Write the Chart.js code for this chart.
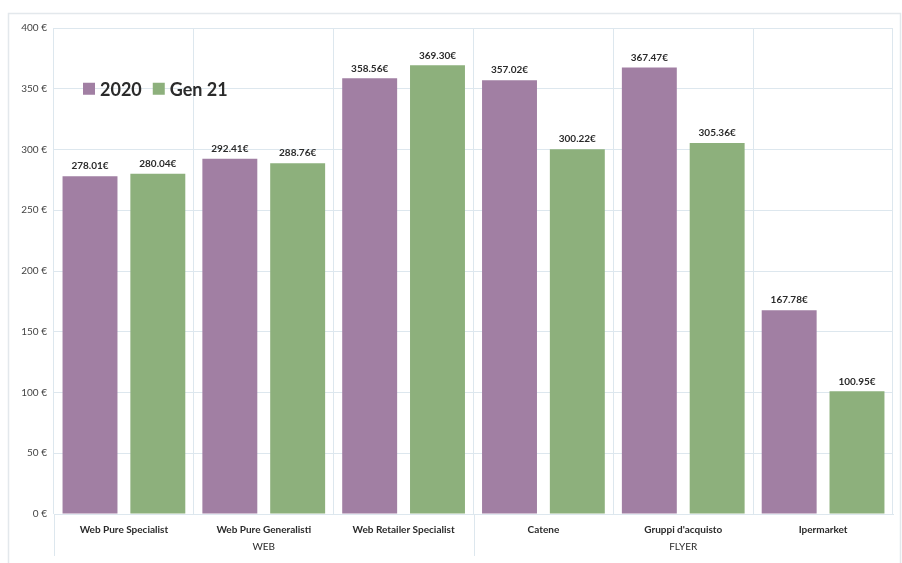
<!DOCTYPE html>
<html>
<head>
<meta charset="utf-8">
<script src="https://cdn.jsdelivr.net/npm/chart.js@4.4.1/dist/chart.umd.min.js"></script>
<style>
  html, body { margin: 0; padding: 0; background: #ffffff; }
  #wrap { width: 902px; height: 563px; }
</style>
</head>
<body>
<div id="wrap"><canvas id="c" width="902" height="563"></canvas></div>
<script>
// Categories and their channel groups
const categories = ['Web Pure Specialist', 'Web Pure Generalisti', 'Web Retailer Specialist', 'Catene', 'Gruppi d\'acquisto', 'Ipermarket'];
const groups = ['WEB', 'FLYER'];
const seriesNames = ['2020', 'Gen 21'];
const values2020 = [278.01, 292.41, 358.56, 357.02, 367.47, 167.78];
const valuesGen21 = [280.04, 288.76, 369.30, 300.22, 305.36, 100.95];
const yTicks = [0, 50, 100, 150, 200, 250, 300, 350, 400];

const PURPLE = '#a17fa3';
const GREEN = '#8db07c';
const GRID = '#dde7ee';
const FONT = 'Lato, "Open Sans", sans-serif';

// Light frame around the whole chart
const framePlugin = {
  id: 'frame',
  beforeDraw(chart) {
    const ctx = chart.ctx;
    ctx.save();
    ctx.fillStyle = '#ffffff';
    ctx.fillRect(0, 0, chart.width, chart.height);
    ctx.strokeStyle = '#e3e8ec';
    ctx.lineWidth = 1.5;
    ctx.strokeRect(8.5, 13.5, chart.width - 10, chart.height - 6);
    ctx.restore();
  }
};

// Extended separators under the axis (left edge and WEB / FLYER boundary)
const separatorPlugin = {
  id: 'separators',
  afterDraw(chart) {
    const ctx = chart.ctx;
    const area = chart.chartArea;
    const x = chart.scales.x;
    const boundary = (x.getPixelForValue(2) + x.getPixelForValue(3)) / 2;
    ctx.save();
    ctx.strokeStyle = GRID;
    ctx.lineWidth = 1;
    [area.left, boundary].forEach(px => {
      ctx.beginPath();
      ctx.moveTo(Math.round(px) + 0.5, area.bottom);
      ctx.lineTo(Math.round(px) + 0.5, area.bottom + 42);
      ctx.stroke();
    });
    ctx.restore();
  }
};

// Value labels above each bar
const valueLabelPlugin = {
  id: 'valueLabels',
  afterDatasetsDraw(chart) {
    const ctx = chart.ctx;
    ctx.save();
    ctx.font = 'bold 10px ' + FONT;
    ctx.fillStyle = '#2b2b2b';
    ctx.textAlign = 'center';
    ctx.textBaseline = 'bottom';
    chart.data.datasets.forEach((ds, i) => {
      chart.getDatasetMeta(i).data.forEach((bar, j) => {
        ctx.fillText(ds.data[j].toFixed(2) + '€', bar.x, bar.y - 5);
      });
    });
    ctx.restore();
  }
};

// Legend drawn inside the plot area
const innerLegendPlugin = {
  id: 'innerLegend',
  afterDraw(chart) {
    const ctx = chart.ctx;
    const y = chart.scales.y.getPixelForValue(350);
    let xPos = chart.chartArea.left + 29;
    ctx.save();
    ctx.font = 'bold 18px ' + FONT;
    ctx.textBaseline = 'middle';
    chart.data.datasets.forEach(ds => {
      ctx.fillStyle = ds.backgroundColor;
      ctx.fillRect(xPos, y - 6, 12, 12);
      xPos += 17;
      ctx.fillStyle = '#2b2b2b';
      ctx.fillText(ds.label, xPos, y + 1);
      xPos += ctx.measureText(ds.label).width + 11;
    });
    ctx.restore();
  }
};

new Chart(document.getElementById('c'), {
  type: 'bar',
  data: {
    labels: categories,
    datasets: [
      { label: seriesNames[0], data: values2020, backgroundColor: PURPLE },
      { label: seriesNames[1], data: valuesGen21, backgroundColor: GREEN }
    ]
  },
  options: {
    responsive: false,
    animation: false,
    devicePixelRatio: 1,
    categoryPercentage: 0.97,
    barPercentage: 0.81,
    layout: { padding: { left: 8, right: 9, top: 28, bottom: 6 } },
    plugins: {
      legend: { display: false },
      tooltip: { enabled: false }
    },
    scales: {
      y: {
        min: 0,
        max: 400,
        afterBuildTicks(scale) { scale.ticks = yTicks.map(v => ({ value: v })); },
        afterFit(scale) { scale.width = 46; },
        border: { display: false },
        grid: { color: GRID, drawTicks: false },
        ticks: {
          padding: 7,
          color: '#444444',
          font: { family: FONT, size: 10 },
          callback: v => v + ' €'
        }
      },
      x: {
        offset: true,
        afterFit(scale) { scale.height = 27; },
        border: { color: GRID },
        grid: { color: GRID, offset: true, drawTicks: false },
        ticks: {
          padding: 10,
          color: '#2b2b2b',
          font: { family: FONT, size: 10, weight: 'bold' },
          maxRotation: 0,
          autoSkip: false
        }
      },
      xGroup: {
        type: 'category',
        position: 'bottom',
        labels: groups,
        offset: true,
        afterFit(scale) { scale.height = 16; },
        border: { display: false },
        grid: { display: false, drawTicks: false },
        ticks: {
          padding: 0,
          color: '#2b2b2b',
          font: { family: FONT, size: 10 },
          maxRotation: 0
        }
      }
    }
  },
  plugins: [framePlugin, separatorPlugin, valueLabelPlugin, innerLegendPlugin]
});
</script>
</body>
</html>
